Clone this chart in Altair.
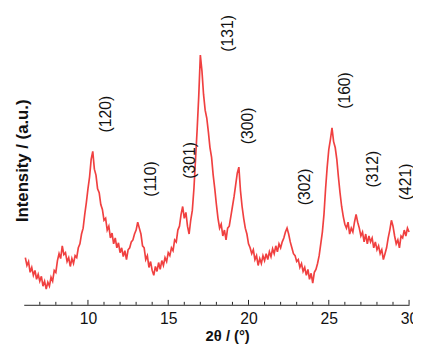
import altair as alt
import pandas as pd
import numpy as np

# XRD scan: 2theta grid (0.1 deg steps) and intensity
two_theta = np.round(np.arange(6.1, 30.05, 0.1), 1)
intensity = [
    48, 40, 44, 33, 38, 30, 35, 26, 31, 24,
    29, 19, 24, 16, 23, 19, 28, 24, 35, 33,
    45, 52, 47, 60, 51, 53, 44, 48, 39, 47,
    42, 50, 48, 58, 62, 72, 78, 92, 104, 118,
    130, 148, 156, 138, 132, 118, 114, 102, 97, 86,
    88, 76, 80, 68, 73, 62, 68, 58, 63, 53,
    58, 49, 55, 46, 56, 58, 64, 66, 72, 76,
    84, 78, 72, 60, 58, 46, 50, 38, 44, 35,
    30, 39, 34, 43, 36, 45, 40, 48, 44, 53,
    50, 58, 55, 66, 64, 76, 80, 92, 100, 88,
    94, 80, 72, 86, 96, 118, 148, 178, 212, 254,
    238, 214, 198, 190, 176, 160, 150, 132, 118, 102,
    88, 78, 82, 70, 76, 66, 78, 80, 90, 100,
    110, 122, 134, 140, 116, 100, 88, 78, 72, 62,
    58, 52, 56, 46, 50, 40, 47, 42, 50, 45,
    52, 46, 54, 49, 57, 52, 60, 54, 62, 58,
    64, 68, 74, 78, 72, 64, 58, 52, 50, 44,
    46, 38, 42, 34, 38, 30, 36, 26, 32, 22,
    33, 36, 42, 50, 62, 74, 92, 118, 140, 158,
    168, 180, 166, 160, 148, 130, 114, 100, 90, 82,
    78, 84, 72, 78, 74, 84, 92, 84, 78, 70,
    74, 64, 72, 62, 70, 64, 68, 58, 64, 56,
    60, 52, 56, 46, 52, 58, 68, 76, 86, 80,
    70, 62, 66, 58, 70, 68, 76, 70, 78, 74,
]

# reflection labels
hkl_labels = ["(120)", "(110)", "(301)", "(131)", "(300)", "(302)", "(160)", "(312)", "(421)"]
hkl_x = [11.1, 13.95, 16.35, 18.75, 20.0, 23.5, 26.0, 27.75, 29.8]
hkl_y = [194, 128, 147, 276, 182, 120, 218, 138, 125]

major_ticks = [10, 15, 20, 25, 30]
minor_ticks = [7, 8, 9, 11, 12, 13, 14, 16, 17, 18, 19, 21, 22, 23, 24, 26, 27, 28, 29]

W, H = 392, 299

scan = pd.DataFrame({"t": two_theta, "i": intensity})
labels = pd.DataFrame({"lab": hkl_labels, "t": hkl_x, "i": hkl_y})
majors = pd.DataFrame({"t": major_ticks})
minors = pd.DataFrame({"t": minor_ticks})

xscale = alt.Scale(domain=[6, 30], nice=False, zero=False)
yscale = alt.Scale(domain=[0, 299], nice=False, zero=False)

xaxis = alt.Axis(
    values=major_ticks, ticks=False, domain=True, domainColor="#222222", domainWidth=1,
    grid=False, labelFontSize=16, labelFont="Liberation Sans", labelColor="#111111",
    labelPadding=6, title="2θ / (°)", titleFont="Liberation Sans", titleFontSize=15,
    titleFontWeight="bold", titleColor="#111111", titlePadding=2, titleX=207,
    titleAnchor="start", titleAlign="center", labelFlush=False,
)
yaxis = alt.Axis(
    domain=False, ticks=False, labels=False, grid=False,
    title="Intensity / (a.u.)", titleFont="Liberation Sans", titleFontSize=17,
    titleFontWeight="bold", titleColor="#111111", titleX=-1, titleY=152,
    titleAngle=270, titleAlign="center", titleBaseline="middle",
)

line = alt.Chart(scan).mark_line(color="#ee2b2b", strokeWidth=1.7, opacity=0.9).encode(
    x=alt.X("t:Q", scale=xscale, axis=xaxis),
    y=alt.Y("i:Q", scale=yscale, axis=yaxis),
)

txt = alt.Chart(labels).mark_text(
    angle=270, align="center", baseline="middle", fontSize=16,
    font="Liberation Sans", color="#111111",
).encode(x=alt.X("t:Q", scale=xscale), y=alt.Y("i:Q", scale=yscale), text="lab:N")

maj = alt.Chart(majors).mark_rule(color="#222222", strokeWidth=1).encode(
    x=alt.X("t:Q", scale=xscale), y=alt.value(H), y2=alt.value(H - 5)
)
mino = alt.Chart(minors).mark_rule(color="#222222", strokeWidth=1).encode(
    x=alt.X("t:Q", scale=xscale), y=alt.value(H), y2=alt.value(H - 3)
)

chart = alt.layer(line, maj, mino, txt).properties(
    width=W, height=H,
    background="white",
    autosize=alt.AutoSizeParams(type="none"),
    padding={"left": 16, "top": 0, "right": 4, "bottom": 40},
).configure_view(strokeWidth=0, stroke="transparent")

chart.save("out.html", embed_options={"renderer": "svg", "actions": False})
